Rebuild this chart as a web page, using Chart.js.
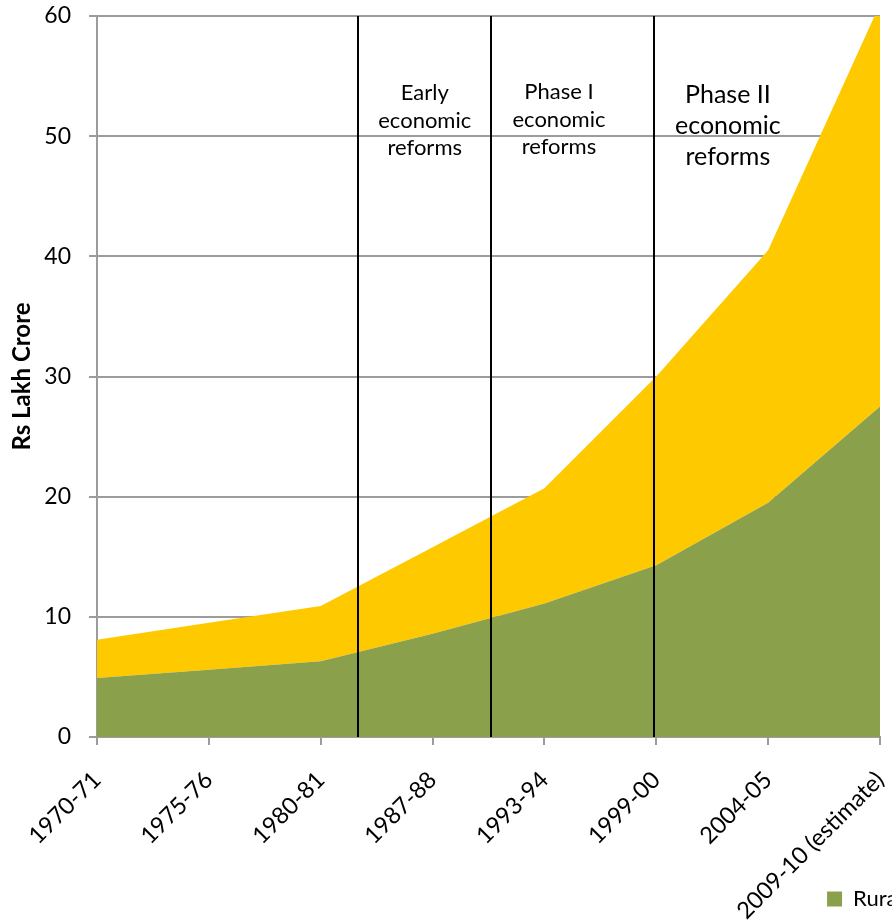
<!DOCTYPE html>
<html>
<head>
<meta charset="utf-8">
<script src="https://cdn.jsdelivr.net/npm/chart.js@4.4.1/dist/chart.umd.min.js"></script>
<style>
  html, body { margin: 0; padding: 0; background: #fff; overflow: hidden; width: 892px; height: 920px; }
  #wrap { position: absolute; left: 0; top: 0; width: 996px; height: 920px; }
</style>
</head>
<body>
<div id="wrap"><canvas id="c" width="996" height="920"></canvas></div>
<script>
// Periods on the horizontal axis
const categories = ['1970-71', '1975-76', '1980-81', '1987-88', '1993-94', '1999-00', '2004-05', '2009-10 (estimate)'];

// Consumption, Rs lakh crore (stacked: rural at the bottom, urban on top)
const rural = [4.9, 5.6, 6.3, 8.6, 11.1, 14.3, 19.5, 27.5];
const urban = [3.2, 3.9, 4.6, 7.2, 9.6, 15.7, 21.0, 33.5];

// Value axis
const yMin = 0;
const yMax = 60;
const yStep = 10;

// Reform period boundaries, in category-index units along the x axis
const reformBoundaries = [2.33, 3.52, 4.98];

// Period captions: position along the x axis (category-index units) and text lines
const reformPhases = [
  { at: 2.93, lines: ['Early', 'economic', 'reforms'], size: 22, baseline: 84, gap: 27.5 },
  { at: 4.13, lines: ['Phase I', 'economic', 'reforms'], size: 22, baseline: 83, gap: 27.5 },
  { at: 5.64, lines: ['Phase II', 'economic', 'reforms'], size: 25, baseline: 87, gap: 31 }
];

const GREEN = '#8AA04B';
const YELLOW = '#FFC900';
const GRID = '#9C9C9C';
const FONT = 'Lato';
const CANVAS_W = 996;
const PLOT_RIGHT = 880;

const reformPlugin = {
  id: 'reforms',
  afterDatasetsDraw(chart) {
    const { ctx, chartArea: a, scales: { x } } = chart;
    ctx.save();
    ctx.strokeStyle = '#000';
    ctx.lineWidth = 2;
    reformBoundaries.forEach(v => {
      const px = Math.round(x.getPixelForValue(v));
      ctx.beginPath();
      ctx.moveTo(px, a.top);
      ctx.lineTo(px, a.bottom);
      ctx.stroke();
    });
    ctx.fillStyle = '#000';
    ctx.textAlign = 'center';
    ctx.textBaseline = 'alphabetic';
    reformPhases.forEach(p => {
      ctx.font = `${p.size}px ${FONT}`;
      const px = x.getPixelForValue(p.at);
      p.lines.forEach((t, i) => ctx.fillText(t, px, a.top + p.baseline + i * p.gap));
    });
    ctx.restore();
  }
};

new Chart(document.getElementById('c'), {
  type: 'line',
  data: {
    labels: categories,
    datasets: [
      { label: 'Rural', data: rural, backgroundColor: GREEN, borderWidth: 0, fill: 'origin', pointRadius: 0, tension: 0 },
      { label: 'Urban', data: urban, backgroundColor: YELLOW, borderWidth: 0, fill: '-1', pointRadius: 0, tension: 0 }
    ]
  },
  options: {
    responsive: false,
    animation: false,
    devicePixelRatio: 1,
    layout: { padding: { top: 16, left: 0, right: 0, bottom: 0 } },
    plugins: {
      legend: {
        position: 'bottom',
        align: 'end',
        labels: { boxWidth: 15, boxHeight: 15, padding: 4, color: '#000', font: { family: FONT, size: 22, lineHeight: 1 } }
      },
      tooltip: { enabled: false }
    },
    scales: {
      x: {
        offset: false,
        grid: { drawOnChartArea: false, drawTicks: true, tickLength: 8, color: GRID, lineWidth: 2 },
        border: { color: GRID, width: 2 },
        ticks: { minRotation: 45, maxRotation: 45, autoSkip: false, padding: 21, color: '#000', font: { family: FONT, size: 23.5 } },
        afterFit(s) { s.height = 147; },
        // long rotated labels may run down past the axis box, into the legend band
        afterUpdate(s) { s._computeLabelArea = () => null; }
      },
      y: {
        stacked: true,
        min: yMin,
        max: yMax,
        ticks: { stepSize: yStep, padding: 18, color: '#000', font: { family: FONT, size: 23 } },
        grid: { color: GRID, lineWidth: 2, tickLength: 8 },
        border: { color: GRID, width: 2 },
        title: { display: true, text: 'Rs Lakh Crore', color: '#000', font: { family: FONT, size: 24, weight: 'bold' }, padding: { top: 8, bottom: 0 } },
        afterFit(s) { s.width = 97; s.paddingTop = 0; s.paddingBottom = 0; }
      },
      pad: {
        type: 'linear',
        position: 'right',
        display: true,
        grid: { display: false },
        border: { display: false },
        ticks: { display: false },
        afterFit(s) { s.width = CANVAS_W - PLOT_RIGHT; }
      }
    }
  },
  plugins: [reformPlugin]
});
</script>
</body>
</html>
